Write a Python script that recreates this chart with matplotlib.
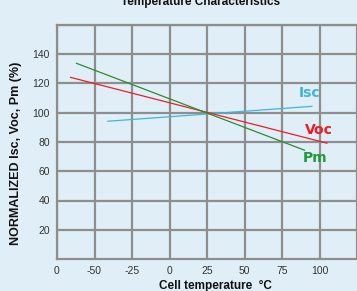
import matplotlib
matplotlib.use("Agg")
import matplotlib.pyplot as plt

# data
temp_isc = [-41, 95]
isc = [94.2, 104.4]
temp_voc = [-66, 105]
voc = [124.2, 79.2]
temp_pm = [-62, 90]
pm = [133.8, 74.4]

xticks = [-75, -50, -25, 0, 25, 50, 75, 100]
xlabels = ['0', '-50', '-25', '0', '25', '50', '75', '100']
yticks = [20, 40, 60, 80, 100, 120, 140]

bg = '#e0eff7'
gridc = '#8e8e8e'

plt.rcParams['font.family'] = ['Liberation Sans', 'DejaVu Sans']

fig = plt.figure(figsize=(3.57, 2.91), dpi=100, facecolor=bg)
ax = fig.add_axes([57 / 357, 32 / 291, 300 / 357, 234 / 291], facecolor=bg)

ax.plot(temp_isc, isc, color='#3fb4dc', lw=0.9)
ax.plot(temp_voc, voc, color='#f01c24', lw=0.9)
ax.plot(temp_pm, pm, color='#2e8b2e', lw=0.9)

ax.text(93.5, 113.5, 'Isc', color='#3fb4dc', fontsize=10, fontweight='bold',
        family='DejaVu Sans', ha='center', va='center')
ax.text(99.5, 88.5, 'Voc', color='#f01c24', fontsize=10, fontweight='bold',
        family='DejaVu Sans', ha='center', va='center')
ax.text(97, 69, 'Pm', color='#1f9a3a', fontsize=10, fontweight='bold',
        family='DejaVu Sans', ha='center', va='center')

ax.set_xlim(-75, 122.4)
ax.set_ylim(0, 160)
ax.set_xticks(xticks)
ax.set_xticklabels(xlabels)
ax.set_yticks(yticks)
ax.set_xticks([125], minor=True)
ax.set_yticks([160], minor=True)
ax.grid(True, which='both', color=gridc, lw=1.6)
ax.tick_params(which='both', length=0, labelsize=7.5, colors='#333333', pad=5)
for s in ['left', 'bottom', 'top']:
    ax.spines[s].set_color(gridc)
    ax.spines[s].set_linewidth(1.6)
ax.spines['right'].set_visible(False)

fig.text(201 / 357, 1 - 5 / 291, 'Temperature Characteristics', fontsize=8.5,
         fontweight='bold', ha='center', va='baseline', color='#111111')
fig.text(215 / 357, 1 - 289 / 291, 'Cell temperature  \u00b0C', fontsize=8.5,
         fontweight='bold', ha='center', va='baseline', color='#111111')
fig.text(16 / 357, 1 - 153 / 291, 'NORMALIZED Isc, Voc, Pm (%)', fontsize=9,
         fontweight='bold', ha='center', va='center', rotation=90,
         color='#111111')

fig.savefig('out.png', dpi=100, facecolor=bg)
